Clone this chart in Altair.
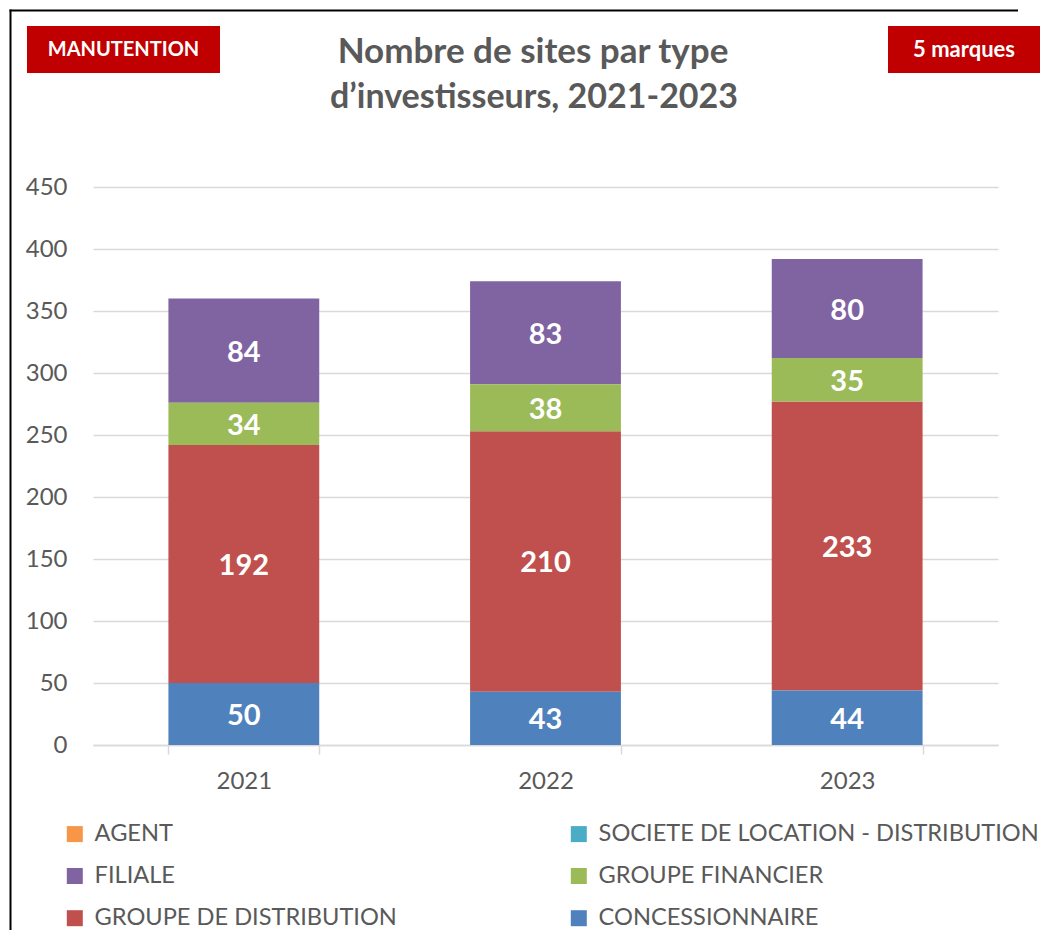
import altair as alt
import pandas as pd

years = ["2021", "2022", "2023"]
# legend order (filled column by column: 3 rows x 2 columns)
categories = ["AGENT", "FILIALE", "GROUPE DE DISTRIBUTION",
              "SOCIETE DE LOCATION - DISTRIBUTION", "GROUPE FINANCIER", "CONCESSIONNAIRE"]
colors = ["#F79646", "#8064A2", "#C0504D", "#4BACC6", "#9BBB59", "#4F81BD"]
stack_rank = [5, 3, 1, 4, 2, 0]
agent = [0, 0, 0]
filiale = [84, 83, 80]
groupe_distribution = [192, 210, 233]
societe = [0, 0, 0]
groupe_financier = [34, 38, 35]
concessionnaire = [50, 43, 44]
title_lines = ["Nombre de sites par type", "d’investisseurs, 2021-2023"]
tag_left = "MANUTENTION"
tag_right = "5 marques"
y_ticks = [0, 50, 100, 150, 200, 250, 300, 350, 400, 450]

series = [agent, filiale, groupe_distribution, societe, groupe_financier, concessionnaire]
rows = []
for cat, rank, vals in zip(categories, stack_rank, series):
    for yr, v in zip(years, vals):
        rows.append({"year": yr, "type": cat, "rank": rank, "value": v})
df = pd.DataFrame(rows)

FONT = "Lato"
GREY = "#595959"
RED = "#C00000"
W, H = 905, 558

x_enc = alt.X("year:N", title=None,
              scale=alt.Scale(paddingInner=0.5, paddingOuter=0.25),
              axis=alt.Axis(labelAngle=0, tickBand="extent", domainColor="#d9d9d9",
                            domainWidth=1.5, tickColor="#d9d9d9", tickWidth=1.5,
                            tickSize=9, labelFont=FONT, labelFontSize=24,
                            labelColor=GREY, labelPadding=15))

bars = alt.Chart(df).mark_bar().encode(
    x=x_enc,
    y=alt.Y("value:Q", stack="zero", title=None,
            scale=alt.Scale(domain=[0, 450], nice=False),
            axis=alt.Axis(values=y_ticks, domain=False, ticks=False, grid=True,
                          gridColor="#d9d9d9", gridWidth=1.3, labelFont=FONT,
                          labelFontSize=24, labelColor=GREY, labelPadding=26)),
    color=alt.Color("type:N", scale=alt.Scale(domain=categories, range=colors),
                    legend=alt.Legend(title=None, orient="none", legendX=-30, legendY=635,
                                      columns=2, symbolType="square", symbolSize=256,
                                      symbolStrokeWidth=0, labelFont=FONT, labelFontSize=23.6,
                                      labelColor=GREY, labelOffset=8, rowPadding=17.2,
                                      columnPadding=170, padding=0, labelLimit=600)),
    order=alt.Order("rank:Q", sort="ascending"),
)

labels = alt.Chart(df).transform_filter("datum.value > 0").transform_stack(
    stack="value", groupby=["year"], sort=[alt.SortField("rank", "ascending")],
    as_=["v0", "v1"]
).transform_calculate(mid="(datum.v0 + datum.v1) / 2").mark_text(
    font=FONT, fontSize=29, fontWeight="bold", color="white", baseline="middle", dy=2
).encode(
    x=alt.X("year:N", title=None),
    y=alt.Y("mid:Q", title=None),
    text=alt.Text("value:Q"),
)

one = pd.DataFrame({"k": [0]})

border_top = alt.Chart(one).mark_rule(color="black", strokeWidth=2).encode(
    x=alt.value(-83.5), x2=alt.value(925), y=alt.value(-176.5))
border_left = alt.Chart(one).mark_rule(color="black", strokeWidth=2).encode(
    x=alt.value(-82.5), y=alt.value(-177.5), y2=alt.value(750))

box_left = alt.Chart(one).mark_rect(color=RED).encode(
    x=alt.value(-66), x2=alt.value(127), y=alt.value(-161), y2=alt.value(-114))
box_right = alt.Chart(one).mark_rect(color=RED).encode(
    x=alt.value(795), x2=alt.value(947), y=alt.value(-161), y2=alt.value(-114))
txt_left = alt.Chart(one).mark_text(text=tag_left, font=FONT, fontSize=20, fontWeight="bold",
                                    color="white", baseline="middle", align="center").encode(
    x=alt.value(30.5), y=alt.value(-137.5))
txt_right = alt.Chart(one).mark_text(text=tag_right, font=FONT, fontSize=22, fontWeight="bold",
                                     color="white", baseline="middle", align="center").encode(
    x=alt.value(871), y=alt.value(-137.5))
title1 = alt.Chart(one).mark_text(text=title_lines[0], font=FONT, fontSize=35, fontWeight="bold",
                                  color=GREY, baseline="alphabetic", align="center").encode(
    x=alt.value(440), y=alt.value(-124))
title2 = alt.Chart(one).mark_text(text=title_lines[1], font=FONT, fontSize=34, fontWeight="bold",
                                  color=GREY, baseline="alphabetic", align="center").encode(
    x=alt.value(441), y=alt.value(-79))

chart = alt.layer(bars, labels, border_top, border_left, box_left, box_right,
                  txt_left, txt_right, title1, title2).properties(
    width=W, height=H,
    padding={"left": 85, "top": 179, "right": 43, "bottom": 185},
    autosize=alt.AutoSizeParams(type="none"),
    background="white",
).configure_view(stroke=None)

chart.save("out.html", embed_options={"renderer": "svg", "actions": False})
